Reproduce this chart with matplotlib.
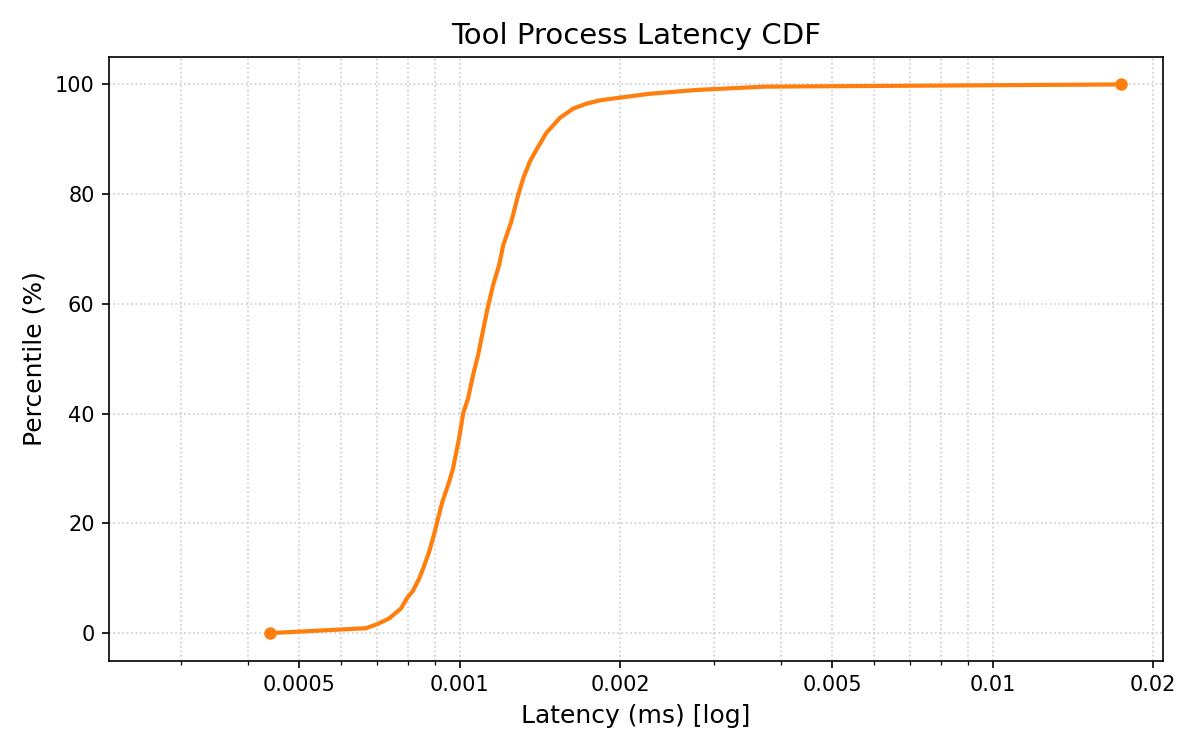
import numpy as np
import matplotlib
matplotlib.use("Agg")
import matplotlib.pyplot as plt
from matplotlib.ticker import LogLocator, NullFormatter


latency_ms = [
    0.000440, 0.000667, 0.000701, 0.000738, 0.000776, 0.000798, 0.000816,
    0.000840, 0.000858, 0.000877, 0.000897, 0.000914, 0.000927, 0.000955,
    0.000971, 0.000997, 0.001015, 0.001037, 0.001060, 0.001083, 0.001099,
    0.001127, 0.001155, 0.001186, 0.001207, 0.001250, 0.001288, 0.001316,
    0.001355, 0.001393, 0.001455, 0.001542, 0.001633, 0.001730, 0.001833,
    0.002000, 0.002275, 0.002790, 0.003740, 0.017400,
]
percentile = [
    0.0, 0.9, 1.65, 2.7, 4.5, 6.5, 7.6,
    10.0, 12.3, 14.9, 18.3, 21.5, 23.8, 27.5,
    29.9, 35.4, 40.0, 42.8, 47.1, 50.7, 53.8,
    59.0, 63.4, 67.1, 70.7, 75.0, 79.9, 82.9,
    86.0, 88.1, 91.2, 93.9, 95.6, 96.5, 97.1,
    97.6, 98.3, 99.0, 99.6, 100.0,
]

tick_values = [0.0005, 0.001, 0.002, 0.005, 0.01, 0.02]
tick_labels = ["0.0005", "0.001", "0.002", "0.005", "0.01", "0.02"]

ORANGE = "#ff7f0e"

fig, ax = plt.subplots(figsize=(8, 5), dpi=150)

ax.plot(latency_ms, percentile, color=ORANGE, linewidth=2,
        marker="o", markersize=5, markevery=[0, len(latency_ms) - 1])

ax.set_xscale("log")
ax.set_xlim(min(latency_ms) * 0.5, max(latency_ms) * 1.2)
ax.xaxis.set_minor_locator(LogLocator(base=10, subs=np.arange(2, 10)))
ax.xaxis.set_minor_formatter(NullFormatter())
ax.set_xticks(tick_values)
ax.set_xticklabels(tick_labels)

ax.set_title("Tool Process Latency CDF", fontsize=14)
ax.set_xlabel("Latency (ms) [log]", fontsize=12)
ax.set_ylabel("Percentile (%)", fontsize=12)
ax.grid(True, which="both", linestyle=":", color="#cccccc", linewidth=0.8)

fig.tight_layout()
fig.savefig("out.png")
